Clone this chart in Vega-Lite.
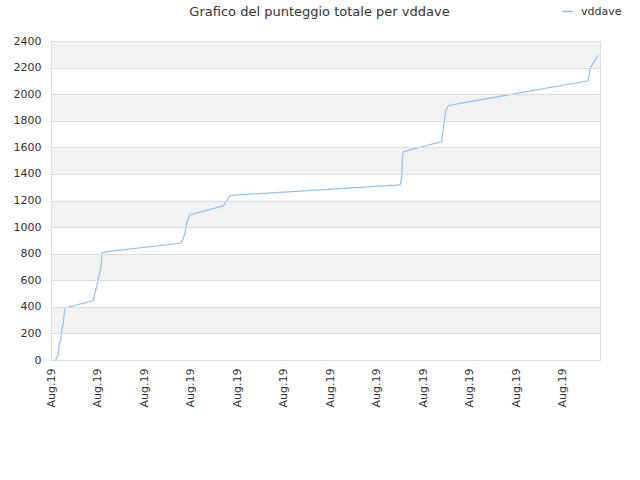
{
  "$schema": "https://vega.github.io/schema/vega-lite/v6.json",
  "autosize": {"type": "none"},
  "padding": {"left": 51, "top": 41, "right": 40, "bottom": 120},
  "width": 549,
  "height": 319,
  "background": "white",
  "title": {
    "text": "Grafico del punteggio totale per vddave",
    "font": "DejaVu Sans", "fontSize": 13, "fontWeight": "normal", "color": "#333333",
    "anchor": "middle", "offset": 0, "dy": 14, "dx": -6
  },
  "datasets": {
    "bands": [
      {"lo": 200, "hi": 400}, {"lo": 600, "hi": 800}, {"lo": 1000, "hi": 1200},
      {"lo": 1400, "hi": 1600}, {"lo": 1800, "hi": 2000}, {"lo": 2200, "hi": 2400}
    ],
    "scores": [
      {"t": 0.10, "punti": 0, "serie": "vddave"},
      {"t": 0.157, "punti": 38, "serie": "vddave"},
      {"t": 0.172, "punti": 113, "serie": "vddave"},
      {"t": 0.209, "punti": 150, "serie": "vddave"},
      {"t": 0.23, "punti": 226, "serie": "vddave"},
      {"t": 0.265, "punti": 278, "serie": "vddave"},
      {"t": 0.286, "punti": 354, "serie": "vddave"},
      {"t": 0.308, "punti": 394, "serie": "vddave"},
      {"t": 0.91, "punti": 446, "serie": "vddave"},
      {"t": 0.931, "punti": 489, "serie": "vddave"},
      {"t": 0.983, "punti": 552, "serie": "vddave"},
      {"t": 1.017, "punti": 615, "serie": "vddave"},
      {"t": 1.054, "punti": 665, "serie": "vddave"},
      {"t": 1.075, "punti": 707, "serie": "vddave"},
      {"t": 1.097, "punti": 807, "serie": "vddave"},
      {"t": 1.198, "punti": 815, "serie": "vddave"},
      {"t": 2.774, "punti": 878, "serie": "vddave"},
      {"t": 2.832, "punti": 903, "serie": "vddave"},
      {"t": 2.882, "punti": 953, "serie": "vddave"},
      {"t": 2.918, "punti": 1029, "serie": "vddave"},
      {"t": 2.974, "punti": 1091, "serie": "vddave"},
      {"t": 3.705, "punti": 1159, "serie": "vddave"},
      {"t": 3.813, "punti": 1217, "serie": "vddave"},
      {"t": 3.849, "punti": 1236, "serie": "vddave"},
      {"t": 4.065, "punti": 1244, "serie": "vddave"},
      {"t": 4.495, "punti": 1251, "serie": "vddave"},
      {"t": 7.505, "punti": 1317, "serie": "vddave"},
      {"t": 7.542, "punti": 1367, "serie": "vddave"},
      {"t": 7.555, "punti": 1518, "serie": "vddave"},
      {"t": 7.576, "punti": 1567, "serie": "vddave"},
      {"t": 8.402, "punti": 1643, "serie": "vddave"},
      {"t": 8.424, "punti": 1706, "serie": "vddave"},
      {"t": 8.452, "punti": 1781, "serie": "vddave"},
      {"t": 8.495, "punti": 1881, "serie": "vddave"},
      {"t": 8.544, "punti": 1913, "serie": "vddave"},
      {"t": 8.796, "punti": 1931, "serie": "vddave"},
      {"t": 11.555, "punti": 2101, "serie": "vddave"},
      {"t": 11.591, "punti": 2195, "serie": "vddave"},
      {"t": 11.77, "punti": 2295, "serie": "vddave"}
    ]
  },
  "layer": [
    {
      "data": {"name": "bands"},
      "mark": {"type": "rect", "color": "#f2f2f2"},
      "encoding": {
        "y": {
          "field": "lo", "type": "quantitative",
          "scale": {"domain": [0, 2400], "nice": false},
          "axis": {
            "title": null,
            "values": [0, 200, 400, 600, 800, 1000, 1200, 1400, 1600, 1800, 2000, 2200, 2400],
            "format": "d", "labelOverlap": false, "tickCount": 13,
            "ticks": false, "labelPadding": 10, "zindex": 1,
            "gridColor": "#dddddd", "domainColor": "#dddddd"
          }
        },
        "y2": {"field": "hi"}
      }
    },
    {
      "data": {"name": "scores"},
      "mark": {"type": "line", "strokeWidth": 1.2, "interpolate": "linear"},
      "encoding": {
        "x": {
          "field": "t", "type": "quantitative",
          "scale": {"domain": [0, 11.806], "nice": false, "zero": false},
          "axis": {
            "title": null,
            "values": [0, 1, 2, 3, 4, 5, 6, 7, 8, 9, 10, 11],
            "labelExpr": "'Aug.19'", "labelOverlap": false,
            "labelAngle": 270, "labelAlign": "right", "labelBaseline": "middle",
            "labelPadding": 8, "ticks": false, "grid": false,
            "domainColor": "#dddddd"
          }
        },
        "y": {
          "field": "punti", "type": "quantitative",
          "axis": {
            "title": null,
            "values": [0, 200, 400, 600, 800, 1000, 1200, 1400, 1600, 1800, 2000, 2200, 2400],
            "format": "d", "labelOverlap": false, "tickCount": 13,
            "ticks": false, "labelPadding": 10, "zindex": 1,
            "gridColor": "#dddddd", "domainColor": "#dddddd"
          }
        },
        "color": {
          "field": "serie", "type": "nominal",
          "scale": {"range": ["#90c2f2"]},
          "legend": {
            "title": null, "orient": "none", "legendX": 510, "legendY": -36,
            "symbolType": "stroke", "symbolSize": 120, "symbolStrokeWidth": 1.5,
            "labelOffset": 7,
            "labelFontSize": 11, "labelColor": "#333333", "labelFont": "DejaVu Sans"
          }
        }
      }
    }
  ],
  "config": {
    "view": {"stroke": "#dddddd"},
    "axis": {"labelFont": "DejaVu Sans", "labelFontSize": 11, "labelColor": "#333333"}
  }
}
